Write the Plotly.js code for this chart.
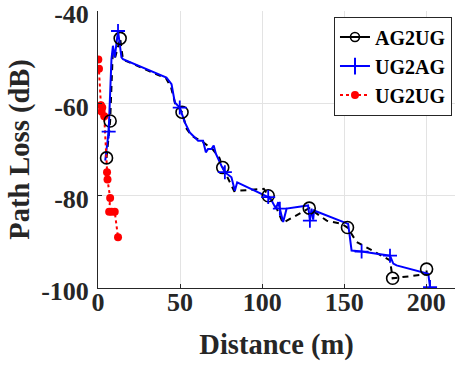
<!DOCTYPE html>
<html>
<head>
<meta charset="utf-8">
<script src="https://cdn.plot.ly/plotly-3.0.1.min.js"></script>
<style>html,body{margin:0;padding:0;background:#fff;}#chart{width:455px;height:367px;}</style>
</head>
<body>
<div id="chart"></div>
<script>
// AG2UG (black dashed, open circles)
const ag2ugX = [5.2, 7.4, 9.0, 10.5, 13.5, 15.2, 41.5, 44.5, 47.0, 51.2, 54.0, 57.0, 64.0, 70.0, 74.0, 76.0, 83.0, 101.0, 103.7, 108.0, 112.6, 126.0, 128.7, 139.3, 148.4, 152.0, 157.5, 177.9, 179.5, 200.2, 200.2];
const ag2ugY = [-71.8, -63.8, -49.0, -50.0, -45.9, -50.5, -54.6, -56.5, -60.0, -61.9, -65.5, -67.0, -68.4, -70.0, -71.8, -73.9, -79.0, -78.5, -80.0, -82.0, -85.9, -83.2, -82.7, -85.4, -86.1, -86.9, -90.0, -94.0, -97.9, -97.0, -95.9];
const ag2ugMarkIdx = [0, 1, 4, 9, 15, 18, 22, 25, 28, 30];

// UG2AG (blue solid, plus markers)
const ug2agX = [4.4, 6.5, 8.2, 9.1, 10.2, 12.2, 14.3, 15.2, 41.7, 44.8, 46.8, 49.8, 52.9, 55.9, 57.9, 61.0, 64.0, 65.7, 67.0, 69.1, 70.5, 71.8, 75.2, 77.3, 81.3, 83.4, 84.8, 101.6, 103.7, 105.7, 108.4, 109.8, 110.8, 112.8, 114.9, 128.0, 129.1, 130.1, 131.1, 131.6, 152.4, 154.5, 160.6, 177.9, 179.9, 181.9, 201.2, 202.3];
const ug2agY = [-72.4, -66.1, -50.4, -47.5, -50.0, -44.3, -50.0, -50.4, -54.4, -55.8, -59.8, -60.9, -64.1, -66.3, -67.0, -68.1, -68.1, -70.6, -69.9, -69.9, -69.1, -70.9, -73.5, -74.9, -76.0, -78.9, -77.1, -80.0, -80.3, -81.0, -82.8, -81.4, -82.8, -85.7, -82.8, -82.1, -85.4, -82.8, -85.2, -83.2, -86.1, -91.9, -92.1, -93.0, -94.7, -95.1, -96.9, -99.8];
const ug2agMarkIdx = [1, 5, 11, 23, 28, 32, 36, 42, 43, 47];

// UG2UG (red dotted, filled dots)
const ug2ugX = [0.2, 0.6, 1.8, 2.6, 2.2, 3.8, 5.5, 5.8, 7.4, 6.8, 8.3, 10.2, 12.2];
const ug2ugY = [-50.5, -52.5, -60.4, -60.9, -61.8, -62.8, -74.9, -76.5, -80.5, -83.5, -83.5, -83.5, -89.0];

const seriesNames = ['AG2UG', 'UG2AG', 'UG2UG'];
const xTicks = [0, 50, 100, 150, 200];
const yTicks = [-100, -80, -60, -40];

const pick = (arr, idx) => idx.map(i => arr[i]);
const serif = 'Liberation Serif, Times New Roman, serif';

const traces = [
  {x: ag2ugX, y: ag2ugY, mode: 'lines', line: {color: '#000', width: 2, dash: '6px,5px'}, showlegend: false, hoverinfo: 'skip'},
  {x: ug2agX, y: ug2agY, mode: 'lines', line: {color: '#0000ff', width: 2}, showlegend: false, hoverinfo: 'skip'},
  {x: ug2ugX, y: ug2ugY, mode: 'lines+markers', line: {color: '#ff0000', width: 2, dash: 'dot'},
   marker: {color: '#ff0000', size: 8, symbol: 'circle'}, showlegend: false},
  {x: pick(ag2ugX, ag2ugMarkIdx), y: pick(ag2ugY, ag2ugMarkIdx), mode: 'markers',
   marker: {symbol: 'circle-open', size: 12, color: '#000', line: {width: 1.6, color: '#000'}}, showlegend: false},
  {x: pick(ug2agX, ug2agMarkIdx), y: pick(ug2agY, ug2agMarkIdx), mode: 'markers',
   marker: {symbol: 'cross-thin', size: 10, color: '#0000ff', line: {width: 1.8, color: '#0000ff'}}, showlegend: false},
  {x: [null], y: [null], name: seriesNames[0], mode: 'lines+markers', line: {color: '#000', width: 2},
   marker: {symbol: 'circle-open', size: 9, color: '#000', line: {width: 1.6, color: '#000'}}},
  {x: [null], y: [null], name: seriesNames[1], mode: 'lines+markers', line: {color: '#0000ff', width: 2},
   marker: {symbol: 'cross-thin', size: 12, color: '#0000ff', line: {width: 2, color: '#0000ff'}}},
  {x: [null], y: [null], name: seriesNames[2], mode: 'lines+markers', line: {color: '#ff0000', width: 2, dash: 'dot'},
   marker: {symbol: 'circle', size: 8, color: '#ff0000'}}
];

const layout = {
  width: 455, height: 367,
  margin: {l: 98, r: 0, t: 11, b: 79},
  paper_bgcolor: '#fff', plot_bgcolor: '#fff',
  font: {family: serif, color: '#262626'},
  showlegend: true,
  legend: {
    x: 0.661, y: 0.98, xanchor: 'left', yanchor: 'top',
    bgcolor: '#fff', bordercolor: '#262626', borderwidth: 1,
    font: {family: serif, size: 20, color: '#000', weight: 'bold'},
    tracegroupgap: 0
  },
  xaxis: {
    range: [0, 217.5], tickvals: xTicks, ticktext: xTicks.map(String),
    showgrid: true, gridcolor: '#e3e3e3', gridwidth: 1,
    zeroline: false, showline: true, linecolor: '#262626', linewidth: 1,
    ticks: 'inside', ticklen: 4, tickcolor: '#262626',
    ticklabelstandoff: -9, ticklabeloverflow: 'allow',
    tickfont: {family: serif, size: 26, color: '#262626', weight: 'bold'},
    title: {text: 'Distance (m)', font: {family: serif, size: 28.5, color: '#262626', weight: 'bold'}, standoff: 17}
  },
  yaxis: {
    range: [-100, -39.97], tickvals: yTicks, ticktext: yTicks.map(String),
    showgrid: true, gridcolor: '#e3e3e3', gridwidth: 1,
    zeroline: false, showline: true, linecolor: '#262626', linewidth: 1,
    ticks: 'inside', ticklen: 4, tickcolor: '#262626',
    ticklabelstandoff: 3, ticklabeloverflow: 'allow', ticklabelshift: 3,
    tickfont: {family: serif, size: 26, color: '#262626', weight: 'bold'},
    title: {text: 'Path Loss (dB)', font: {family: serif, size: 28.5, color: '#262626', weight: 'bold'}, standoff: 3}
  }
};

Plotly.newPlot('chart', traces, layout, {displayModeBar: false, staticPlot: true});
</script>
</body>
</html>
